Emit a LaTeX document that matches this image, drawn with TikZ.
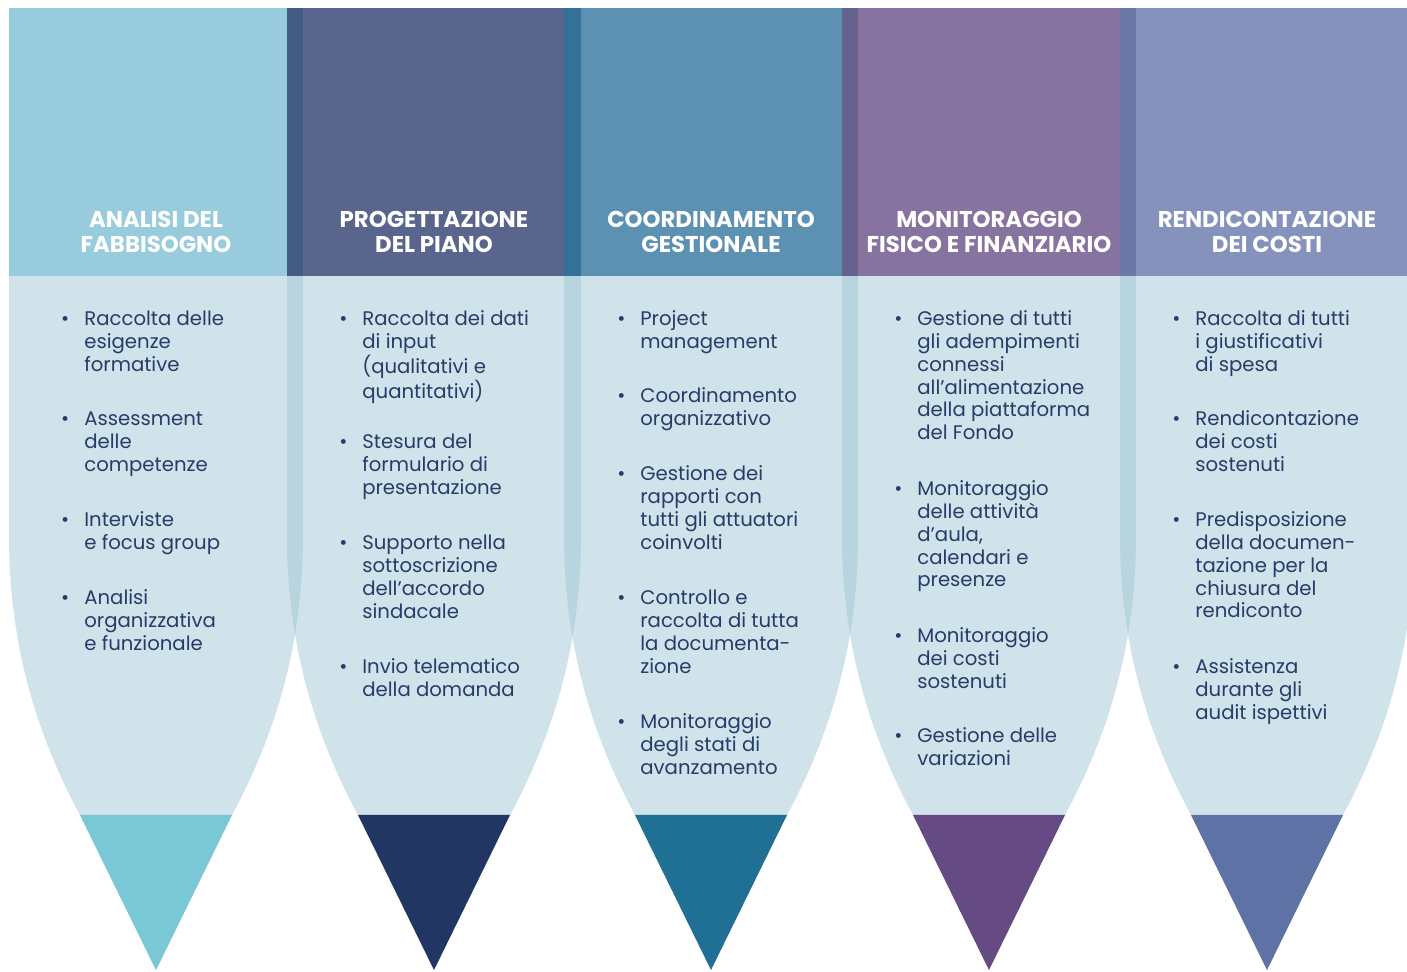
\documentclass[tikz,border=0pt]{standalone}
\usepackage{fontspec}
\setmainfont{Poppins}
\usepackage{tikz}
\usetikzlibrary{positioning}

\definecolor{corpo}{RGB}{161,199,213}
\definecolor{testo}{RGB}{38,60,106}
\definecolor{hdrA}{RGB}{152,203,219}
\definecolor{hdrB}{RGB}{89,101,140}
\definecolor{hdrC}{RGB}{92,145,177}
\definecolor{hdrD}{RGB}{134,115,159}
\definecolor{hdrE}{RGB}{133,146,187}
\definecolor{stripAB}{RGB}{66,92,133}
\definecolor{stripBC}{RGB}{52,112,152}
\definecolor{stripCD}{RGB}{102,98,143}
\definecolor{stripDE}{RGB}{107,120,166}
\definecolor{tipA}{RGB}{122,200,214}
\definecolor{tipB}{RGB}{34,54,100}
\definecolor{tipC}{RGB}{31,112,148}
\definecolor{tipD}{RGB}{101,74,132}
\definecolor{tipE}{RGB}{94,114,166}

\newcommand{\punto}{\llap{\textbullet\hspace{0.3cm}}\strut}

\begin{document}
\begin{tikzpicture}[x=0.02cm,y=-0.02cm]
		\tikzstyle{goccia} = [fill=corpo, fill opacity=0.5]
		\tikzstyle{titolo} = [text=white, align=center, inner sep=0pt, font=\fontsize{13}{14.2}\selectfont\bfseries]
		\tikzstyle{voce} = [text=testo, anchor=north west, yshift=9.128pt, inner sep=0pt, align=left, font=\fontsize{11.2}{13.04}\selectfont]
		\clip (0,0) rectangle (1407,972);
		
		% Corpi a goccia
		\fill[goccia] (9,276) -- (9,537) .. controls (9,628) and (29,721) .. (80,815) -- (156,970) -- (232,815) .. controls (283,721) and (303,628) .. (303,537) -- (303,276) -- cycle;
		\fill[goccia] (287,276) -- (287,537) .. controls (287,628) and (307,721) .. (358,815) -- (434,970) -- (510,815) .. controls (561,721) and (581,628) .. (581,537) -- (581,276) -- cycle;
		\fill[goccia] (564,276) -- (564,537) .. controls (564,628) and (584,721) .. (635,815) -- (711,970) -- (787,815) .. controls (838,721) and (858,628) .. (858,537) -- (858,276) -- cycle;
		\fill[goccia] (842,276) -- (842,537) .. controls (842,628) and (862,721) .. (913,815) -- (989,970) -- (1065,815) .. controls (1116,721) and (1136,628) .. (1136,537) -- (1136,276) -- cycle;
		\fill[goccia] (1120,276) -- (1120,537) .. controls (1120,628) and (1140,721) .. (1191,815) -- (1267,970) -- (1343,815) .. controls (1394,721) and (1414,628) .. (1414,537) -- (1414,276) -- cycle;
		
		% Intestazioni
		\fill[hdrA] (9,8) rectangle (303,276);
		\fill[hdrB] (287,8) rectangle (581,276);
		\fill[hdrC] (564,8) rectangle (858,276);
		\fill[hdrD] (842,8) rectangle (1136,276);
		\fill[hdrE] (1120,8) rectangle (1414,276);
		\fill[stripAB] (287,8) rectangle (303,276);
		\fill[stripBC] (564,8) rectangle (581,276);
		\fill[stripCD] (842,8) rectangle (858,276);
		\fill[stripDE] (1120,8) rectangle (1136,276);
		
		% Punte
		\fill[tipA] (80,815) -- (232,815) -- (156,970) -- cycle;
		\fill[tipB] (358,815) -- (510,815) -- (434,970) -- cycle;
		\fill[tipC] (635,815) -- (787,815) -- (711,970) -- cycle;
		\fill[tipD] (913,815) -- (1065,815) -- (989,970) -- cycle;
		\fill[tipE] (1191,815) -- (1343,815) -- (1267,970) -- cycle;
		
		% Titoli
		\node[titolo] (tA) at (156,232) {ANALISI DEL\\FABBISOGNO};
		\node[titolo] (tB) at (434,232) {PROGETTAZIONE\\DEL PIANO};
		\node[titolo] (tC) at (711,232) {COORDINAMENTO\\GESTIONALE};
		\node[titolo] (tD) at (989,232) {MONITORAGGIO\\FISICO E FINANZIARIO};
		\node[titolo] (tE) at (1267,232) {RENDICONTAZIONE\\DEI COSTI};
		
		% Voci colonna 1
		\node[voce] (a1) at (84,325) {\punto Raccolta delle\\esigenze\\formative};
		\node[voce] (a2) at (84,425) {\punto Assessment\\delle\\competenze};
		\node[voce] (a3) at (84,526) {\punto Interviste\\e focus group};
		\node[voce] (a4) at (84,604) {\punto Analisi\\organizzativa\\e funzionale};
		
		% Voci colonna 2
		\node[voce] (b1) at (362,325) {\punto Raccolta dei dati\\di input\\(qualitativi e\\quantitativi)};
		\node[voce] (b2) at (362,448) {\punto Stesura del\\formulario di\\presentazione};
		\node[voce] (b3) at (362,549) {\punto Supporto nella\\sottoscrizione\\dell’accordo\\sindacale};
		\node[voce] (b4) at (362,673) {\punto Invio telematico\\della domanda};
		
		% Voci colonna 3
		\node[voce] (c1) at (640,325) {\punto Project\\management};
		\node[voce] (c2) at (640,402) {\punto Coordinamento\\organizzativo};
		\node[voce] (c3) at (640,480) {\punto Gestione dei\\rapporti con\\tutti gli attuatori\\coinvolti};
		\node[voce] (c4) at (640,604) {\punto Controllo e\\raccolta di tutta\\la documenta-\\zione};
		\node[voce] (c5) at (640,728) {\punto Monitoraggio\\degli stati di\\avanzamento};
		
		% Voci colonna 4
		\node[voce] (d1) at (917,325) {\punto Gestione di tutti\\gli adempimenti\\connessi\\all’alimentazione\\della piattaforma\\del Fondo};
		\node[voce] (d2) at (917,495) {\punto Monitoraggio\\delle attività\\d’aula,\\calendari e\\presenze};
		\node[voce] (d3) at (917,642) {\punto Monitoraggio\\dei costi\\sostenuti};
		\node[voce] (d4) at (917,742) {\punto Gestione delle\\variazioni};
		
		% Voci colonna 5
		\node[voce] (e1) at (1195,325) {\punto Raccolta di tutti\\i giustificativi\\di spesa};
		\node[voce] (e2) at (1195,425) {\punto Rendicontazione\\dei costi\\sostenuti};
		\node[voce] (e3) at (1195,526) {\punto Predisposizione\\della documen-\\tazione per la\\chiusura del\\rendiconto};
		\node[voce] (e4) at (1195,673) {\punto Assistenza\\durante gli\\audit ispettivi};
	\end{tikzpicture}
\end{document}
